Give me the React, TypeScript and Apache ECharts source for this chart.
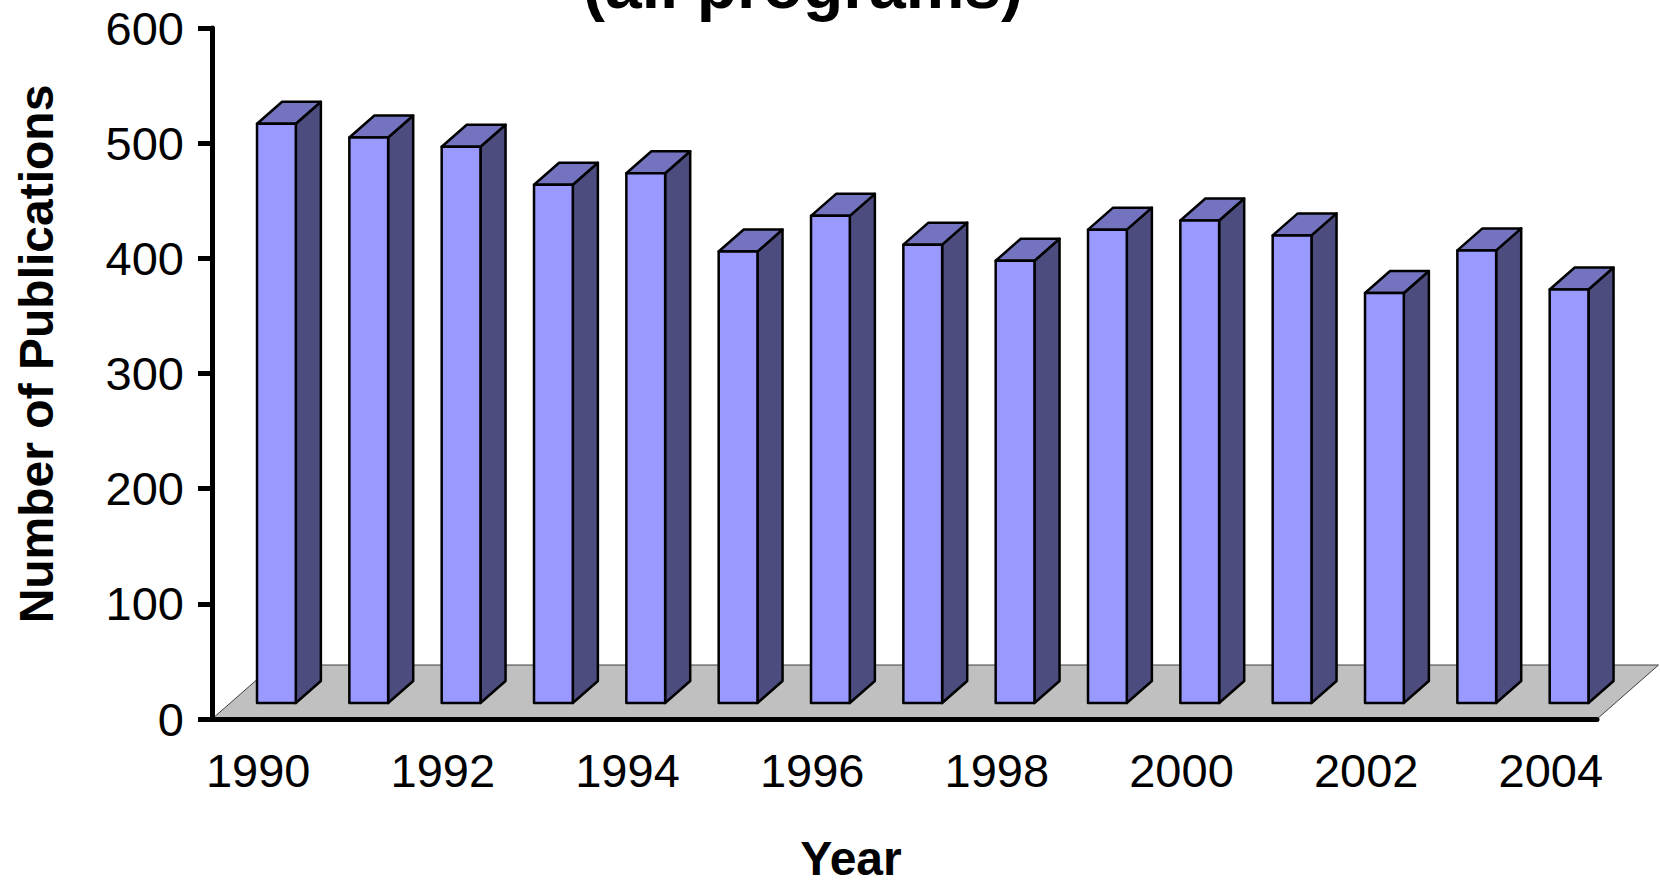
import { useEffect, useRef } from 'react';
import * as echarts from 'echarts';

const years = ['1990', '1991', '1992', '1993', '1994', '1995', '1996', '1997', '1998', '1999', '2000', '2001', '2002', '2003', '2004'];
const publications = [503, 491, 483, 450, 460, 392, 423, 398, 384, 411, 419, 406, 356, 393, 359];
const yMin = 0;
const yMax = 600;
const yStep = 100;
const titleText = '(all programs)';
const yTitle = 'Number of Publications';
const xTitle = 'Year';

const FRONT = '#9999FF';
const SIDE = '#4C4C7F';
const TOP = '#7373BF';
const FLOOR = '#C0C0C0';
const FONT = "'Liberation Sans', Arial, sans-serif";

// 3D projection constants (pixels)
const SLANT = 1.14;
const FLOOR_DEPTH = 54;
const BAR_DEPTH = 22;
const LIFT = (FLOOR_DEPTH - BAR_DEPTH) / 2;
const BAR_RATIO = 0.42;

export default function App() {
  const ref = useRef<HTMLDivElement>(null);
  useEffect(() => {
    if (!ref.current) return;
    const chart = echarts.init(ref.current, undefined, { renderer: 'svg' });
    const option: any = {
      animation: false,
      backgroundColor: '#ffffff',
      grid: { left: 212, right: 63, top: 28, bottom: 164, outerBoundsMode: 'none' },
      xAxis: {
        type: 'category',
        data: years,
        z: 10,
        axisLine: { lineStyle: { color: '#000', width: 5 } },
        axisTick: { interval: 0, length: 13, lineStyle: { color: '#000', width: 5 } },
        axisLabel: { interval: 1, fontSize: 47, fontFamily: FONT, color: '#000', margin: 28 },
        splitLine: { show: false },
      },
      yAxis: {
        type: 'value',
        min: yMin,
        max: yMax,
        interval: yStep,
        z: 10,
        axisLine: { show: true, lineStyle: { color: '#000', width: 5 } },
        axisTick: { show: true, length: 14, lineStyle: { color: '#000', width: 5 } },
        axisLabel: { fontSize: 47, fontFamily: FONT, color: '#000', margin: 28 },
        splitLine: { show: false },
      },
      graphic: [
        {
          type: 'text',
          x: 803,
          y: -15,
          style: { text: titleText, font: `bold 66px ${FONT}`, fill: '#000', align: 'center', verticalAlign: 'middle', textAlign: 'center', textVerticalAlign: 'middle' },
        },
        {
          type: 'text',
          x: 36,
          y: 354,
          rotation: Math.PI / 2,
          style: { text: yTitle, font: `bold 48px ${FONT}`, fill: '#000', align: 'center', verticalAlign: 'middle', textAlign: 'center', textVerticalAlign: 'middle' },
        },
        {
          type: 'text',
          x: 851,
          y: 858,
          style: { text: xTitle, font: `bold 48px ${FONT}`, fill: '#000', align: 'center', verticalAlign: 'middle', textAlign: 'center', textVerticalAlign: 'middle' },
        },
      ],
      series: [
        {
          type: 'custom',
          z: 1,
          silent: true,
          data: [[0, 0]],
          encode: { x: 0, y: 1 },
          renderItem: (params: any) => {
            const cs = params.coordSys;
            const x0 = cs.x;
            const x1 = cs.x + cs.width;
            const yb = cs.y + cs.height;
            const dx = FLOOR_DEPTH * SLANT;
            return {
              type: 'polygon',
              shape: { points: [[x0, yb], [x1, yb], [x1 + dx, yb - FLOOR_DEPTH], [x0 + dx, yb - FLOOR_DEPTH]] },
              style: { fill: FLOOR, stroke: '#404040', lineWidth: 1 },
            };
          },
        },
        {
          type: 'custom',
          z: 2,
          data: publications.map((v, i) => [i, v]),
          encode: { x: 0, y: 1 },
          renderItem: (params: any, api: any) => {
            const i = api.value(0);
            const v = api.value(1);
            const p0 = api.coord([i, 0]);
            const p1 = api.coord([i, v]);
            const band = api.size([1, 0])[0];
            const w = band * BAR_RATIO;
            const fx = p0[0] + LIFT * SLANT - w / 2;
            const yb = p0[1] - LIFT;
            const yt = p1[1] - LIFT;
            const dx = BAR_DEPTH * SLANT;
            const dy = BAR_DEPTH;
            const st = { stroke: '#000', lineWidth: 2.5, lineJoin: 'round' };
            return {
              type: 'group',
              children: [
                { type: 'polygon', shape: { points: [[fx + w, yt], [fx + w + dx, yt - dy], [fx + w + dx, yb - dy], [fx + w, yb]] }, style: { fill: SIDE, ...st } },
                { type: 'polygon', shape: { points: [[fx, yt], [fx + dx, yt - dy], [fx + w + dx, yt - dy], [fx + w, yt]] }, style: { fill: TOP, ...st } },
                { type: 'rect', shape: { x: fx, y: yt, width: w, height: yb - yt }, style: { fill: FRONT, ...st } },
              ],
            };
          },
        },
      ],
    };
    chart.setOption(option);
    return () => chart.dispose();
  }, []);
  return <div ref={ref} style={{ position: 'fixed', left: 0, top: 0, width: 1660, height: 883, background: '#fff' }} />;
}
